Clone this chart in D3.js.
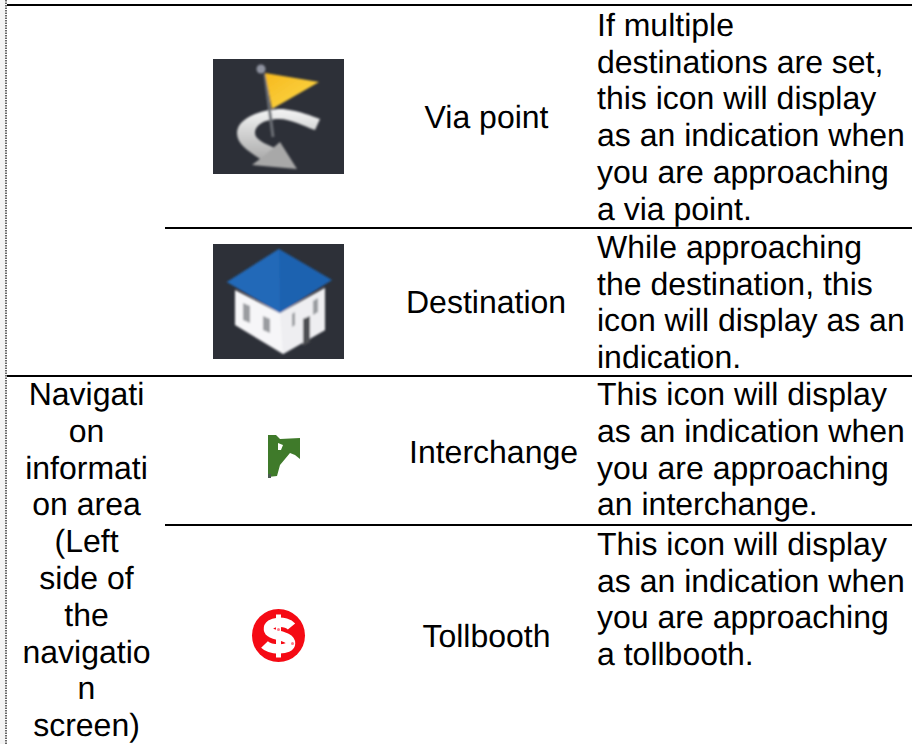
<!DOCTYPE html>
<html><head><meta charset="utf-8">
<script src="https://cdn.jsdelivr.net/npm/d3@7/dist/d3.min.js"></script>
<style>html,body{margin:0;padding:0;background:#fff;overflow:hidden}svg{display:block}
text{font-family:"Liberation Sans",Arial,sans-serif;font-size:32px;fill:#000;text-rendering:geometricPrecision}</style>
</head><body><svg id="c" width="912" height="744"></svg>
<script>
const rowNames = ["Via point","Destination","Interchange","Tollbooth"];
const rowIcons = ["via","house","green","toll"];
const rowDescriptions = [
 ["If multiple","destinations are set,","this icon will display","as an indication when","you are approaching","a via point."],
 ["While approaching","the destination, this","icon will display as an","indication."],
 ["This icon will display","as an indication when","you are approaching","an interchange."],
 ["This icon will display","as an indication when","you are approaching","a tollbooth."]
];
const rowLineCounts = [6,4,4,6];
const areaLabel = ["Navigati","on","informati","on area","(Left","side of","the","navigatio","n","screen)"];

const W=912,H=744,LH=36.7;
const svg=d3.select("#c");
const defs=svg.append("defs");
defs.append("filter").attr("id","soft").attr("x","-5%").attr("y","-5%").attr("width","110%").attr("height","110%")
  .append("feGaussianBlur").attr("stdDeviation",0.9);
const g1=defs.append("linearGradient").attr("id","road").attr("x1",0).attr("x2",0).attr("y1",0).attr("y2",1);
g1.append("stop").attr("offset",0).attr("stop-color","#f4f5f5");
g1.append("stop").attr("offset",1).attr("stop-color","#a9a9a9");
const g2=defs.append("linearGradient").attr("id","flag").attr("x1",0).attr("x2",1).attr("y1",0).attr("y2",1);
g2.append("stop").attr("offset",0).attr("stop-color","#f7b91e");
g2.append("stop").attr("offset",1).attr("stop-color","#fbd94a");

// layout: rows grow with their number of text lines
const pitch=d3.scaleLinear().domain([4,6]).range([148,223]);
let acc=5;
const rowY=rowLineCounts.map(n=>{const y=acc;acc+=pitch(n);return y;});
const rowH=rowLineCounts.map(n=>pitch(n));
const firstBaseline=[31,30,29.3,31];
const nameNudge=[0,0,2,0];
const line=d3.line();

// left dotted page edge
svg.append("rect").attr("x",0).attr("y",0).attr("width",5).attr("height",H).attr("fill","#f4f4f4");
svg.append("line").attr("x1",6).attr("x2",6).attr("y1",0).attr("y2",H)
  .attr("stroke","#666").attr("stroke-width",2).attr("stroke-dasharray","1.5 1");

// rules
const rule=(x1,x2,y)=>svg.append("line").attr("x1",x1).attr("x2",x2).attr("y1",y).attr("y2",y).attr("stroke","#000").attr("stroke-width",2);
rule(7,W,rowY[0]);
rule(165,W,rowY[1]);
rule(7,W,rowY[2]);
rule(165,W,rowY[3]+1);

// names
const nameCx=486.5;
const wideNameX={Destination:406,Interchange:409};
svg.append("g").selectAll("text").data(rowNames).join("text")
  .attr("y",(d,i)=>rowY[i]+rowH[i]/2+11+nameNudge[i])
  .attr("x",d=>wideNameX[d]||nameCx)
  .attr("text-anchor",d=>wideNameX[d]?"start":"middle")
  .text(d=>d);

// descriptions
rowDescriptions.forEach((ls,i)=>{
  svg.append("g").selectAll("text").data(ls).join("text")
   .attr("x",597).attr("y",(d,k)=>rowY[i]+firstBaseline[i]+k*LH).text(d=>d);
});

// area label
svg.append("g").selectAll("text").data(areaLabel).join("text")
  .attr("x",86.5).attr("text-anchor","middle")
  .attr("y",(d,k)=>rowY[2]+29+k*36.8).text(d=>d);

// icons
function poly(g,pts,fill){return g.append("path").attr("d",line(pts)+"Z").attr("fill",fill);}
const drawers={
 via(cy){
  const g=svg.append("g").attr("transform",`translate(213,${cy-57.5})`);
  g.append("rect").attr("width",131).attr("height",115).attr("fill","#2d3038");
  const h=g.append("g").attr("filter","url(#soft)");
  h.append("path").attr("d","M70,50 C88,52 98,57 107,60 L102,71 C90,67 78,60 66,60 C52,60 42,66 42,74 C42,80 50,84 64,90 L50,102 C36,92 24,86 24,74 C24,60 46,50 70,50Z")
    .attr("fill","url(#road)");
  poly(h,[[84,110],[39,106],[52,96],[67,83]],"#a8a8a8");
  h.append("path").attr("d","M52,15 L60,78").attr("stroke","#6b6e74").attr("stroke-width",3);
  h.append("circle").attr("cx",48).attr("cy",10).attr("r",4.5).attr("fill","#8f93a0");
  poly(h,[[52,14],[106,23],[59,50]],"url(#flag)");
 },
 house(cy){
  const g=svg.append("g").attr("transform",`translate(213,${cy-57.5})`);
  g.append("rect").attr("width",131).attr("height",115).attr("fill","#2d3038");
  const h=g.append("g").attr("filter","url(#soft)");
  poly(h,[[22,46],[67,69],[112,44],[112,86],[70,110],[22,81]],"#f6f6f8");
  poly(h,[[67,69],[112,44],[112,86],[70,110]],"#eeeef1");
  [[[30,59],[37,62],[37,79],[30,76]],[[50,72],[57,75],[57,89],[50,86]],[[79,70],[82,68],[82,81],[79,83]],[[100,57],[105,54],[105,68],[100,71]]]
    .forEach(w=>poly(h,w,"#9a9ca0"));
  poly(h,[[90,75],[97,72],[97,98],[90,102]],"#4d4f52");
  poly(h,[[66,5],[119,36],[67,69],[14,38]],"#1e62b0");
  poly(h,[[66,5],[14,38],[67,69]],"#2469b8");
 },
 green(cy){
  const g=svg.append("g").attr("transform",`translate(268,${cy-15})`);
  poly(g,[[0,0],[8,0],[12,4],[32,3],[32,24],[27,20],[22,18],[12,30],[9,41],[0,42]],"#3f7a2a");
  poly(g,[[10,8],[15,10],[13,15],[10,15]],"#fff");
  g.append("rect").attr("x",0).attr("y",39).attr("width",3).attr("height",4).attr("fill","#4a5a50");
 },
 toll(cy){
  const g=svg.append("g").attr("transform",`translate(278.5,${cy+0.5})`);
  g.append("circle").attr("r",26.5).attr("fill","#f50a14");
  g.append("path").attr("d","M13,-9 C8,-15 -11,-15 -10,-6 C-9,1 12,-1 12,8 C12,15 -8,15 -14,9")
   .attr("fill","none").attr("stroke","#fff").attr("stroke-width",9.5);
  g.append("path").attr("d","M0,-21 V22").attr("stroke","#fff").attr("stroke-width",5);
  [[-6,-6],[8,8]].forEach(p=>g.append("circle").attr("cx",p[0]+6).attr("cy",p[1]).attr("r",1.5).attr("fill","#f78"));
 }
};
const iconCy=[116.5,301.5,450,635];
rowIcons.forEach((k,i)=>drawers[k](iconCy[i]));
</script></body></html>
